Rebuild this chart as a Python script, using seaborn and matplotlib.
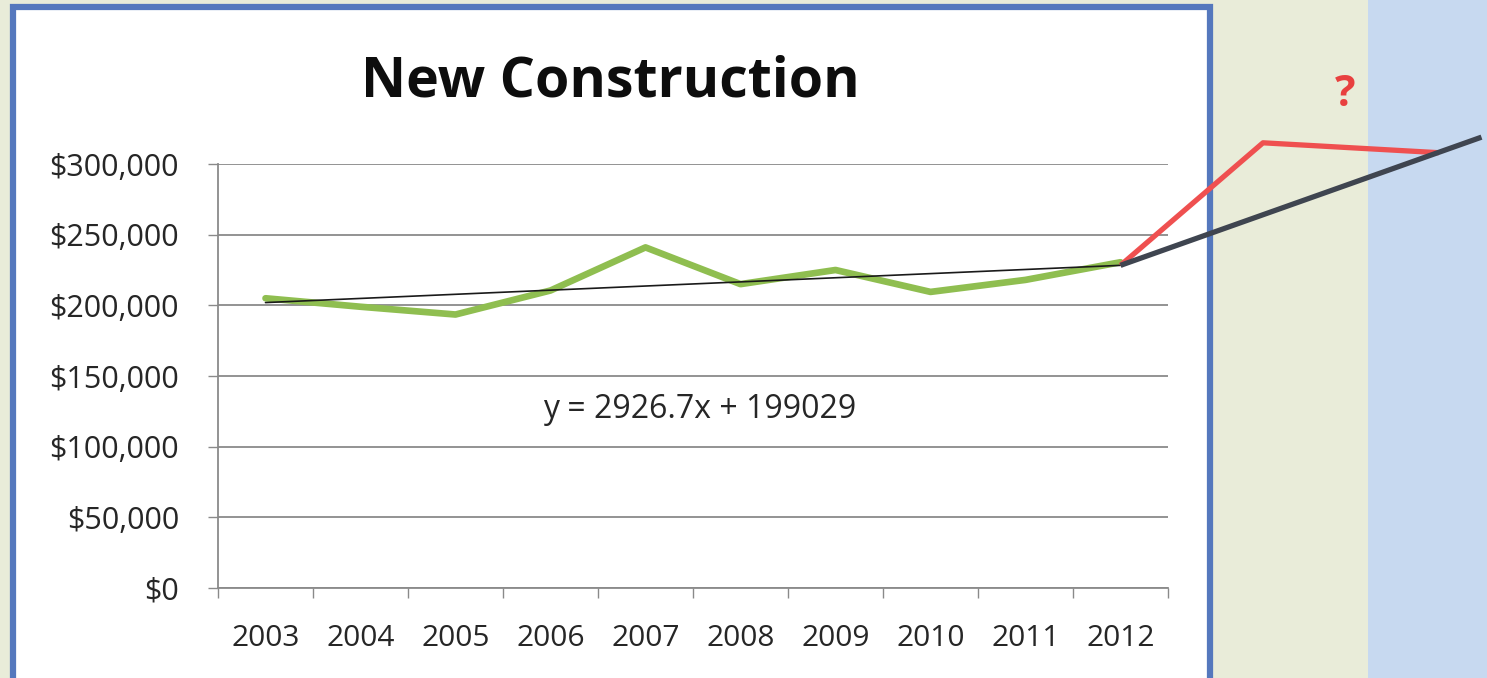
import matplotlib
matplotlib.use("Agg")
import matplotlib.pyplot as plt
from matplotlib.patches import Rectangle
import numpy as np
import pandas as pd
import seaborn as sns

# Median new-construction price by year
years = ["2003", "2004", "2005", "2006", "2007", "2008", "2009", "2010", "2011", "2012"]
prices = [205000, 199000, 193500, 210500, 241000, 215000, 225000, 209500, 218000, 230500]

# Linear trend fitted over the 10 years (x = 1..10)
trend_slope = 2926.7
trend_intercept = 199029

# Hand-sketched projections past 2012 (x positions in year-index units)
proj_steady_x = [9, 12.8]
proj_steady_y = [228296, 319000]
proj_spike_x = [9, 10.5, 12.35]
proj_spike_y = [228296, 315000, 308000]

y_ticks = [0, 50000, 100000, 150000, 200000, 250000, 300000]
y_tick_labels = ["$0", "$50,000", "$100,000", "$150,000", "$200,000", "$250,000", "$300,000"]

title_text = "New Construction"
equation_text = "y = 2926.7x + 199029"

sns.set_theme(style="white")
plt.rcParams["font.family"] = ["Open Sans", "DejaVu Sans"]

W, H, DPI = 1487, 678, 100
fig = plt.figure(figsize=(W / DPI, H / DPI), dpi=DPI)
fig.patch.set_facecolor("#e9ecd9")

# light blue side panel
fig.patches.append(Rectangle((1368 / W, 0), (W - 1368) / W, 1, transform=fig.transFigure,
                             facecolor="#c7d9f0", edgecolor="none", zorder=-3))
# white chart card with blue frame
fig.patches.append(Rectangle((13 / W, -0.05), (1210 - 13) / W, (H - 7) / H + 0.05,
                             transform=fig.transFigure, facecolor="white",
                             edgecolor="#5578bd", linewidth=4.5, zorder=-2))

ax = fig.add_axes([218 / W, 90 / H, 950 / W, 424 / H])
ax.set_facecolor("none")
ax.set_zorder(2)

df = pd.DataFrame({"idx": np.arange(len(years)), "price": prices})
sns.lineplot(data=df, x="idx", y="price", ax=ax, color="#8fbe50", linewidth=4.8,
             zorder=3)

trend_x = np.arange(len(years))
trend_y = trend_slope * (trend_x + 1) + trend_intercept
sns.lineplot(x=trend_x, y=trend_y, ax=ax, color="#1a1a1a", linewidth=1.2, zorder=4)

ax.plot(proj_steady_x, proj_steady_y, color="#3f4550", linewidth=3.8,
        clip_on=False, zorder=6, solid_capstyle="butt")
ax.plot(proj_spike_x, proj_spike_y, color="#ef5050", linewidth=3.8,
        clip_on=False, zorder=5, solid_capstyle="butt")

ax.set_xlim(-0.5, len(years) - 0.5)
ax.set_ylim(0, 300000)
ax.set_yticks(y_ticks)
ax.set_yticklabels(y_tick_labels)
ax.set_xticks(np.arange(len(years)))
ax.set_xticklabels(years)
ax.set_xticks(np.arange(len(years) + 1) - 0.5, minor=True)
ax.set_xlabel("")
ax.set_ylabel("")

ax.yaxis.grid(True, color="#8a8a8a", linewidth=1.3)
ax.xaxis.grid(False)
ax.set_axisbelow(True)
for side in ["top", "right"]:
    ax.spines[side].set_visible(False)
ax.spines["left"].set_color("#8a8a8a")
ax.spines["bottom"].set_color("#8a8a8a")
ax.spines["left"].set_linewidth(1.3)
ax.spines["bottom"].set_linewidth(1.3)

ax.tick_params(axis="y", which="major", left=True, length=7, width=1.0, color="#8a8a8a",
               pad=21, labelsize=22, labelcolor="#262626")
ax.tick_params(axis="x", which="major", bottom=True, length=0, pad=26,
               labelsize=21.5, labelcolor="#262626")
ax.tick_params(axis="x", which="minor", bottom=True, length=7, width=1.0, color="#8a8a8a")

ax.text(4.57, 126000, equation_text, ha="center", va="center", fontsize=23, color="#262626")

fig.text(610 / W, 1 - 82 / H, title_text, ha="center", va="center",
         fontsize=40, fontweight="bold", color="#0d0d0d")
fig.text(1345 / W, 1 - 94 / H, "?", ha="center", va="center",
         fontsize=31, fontweight="bold", color="#e8403f")

fig.savefig("out.png", dpi=DPI, facecolor=fig.get_facecolor())
